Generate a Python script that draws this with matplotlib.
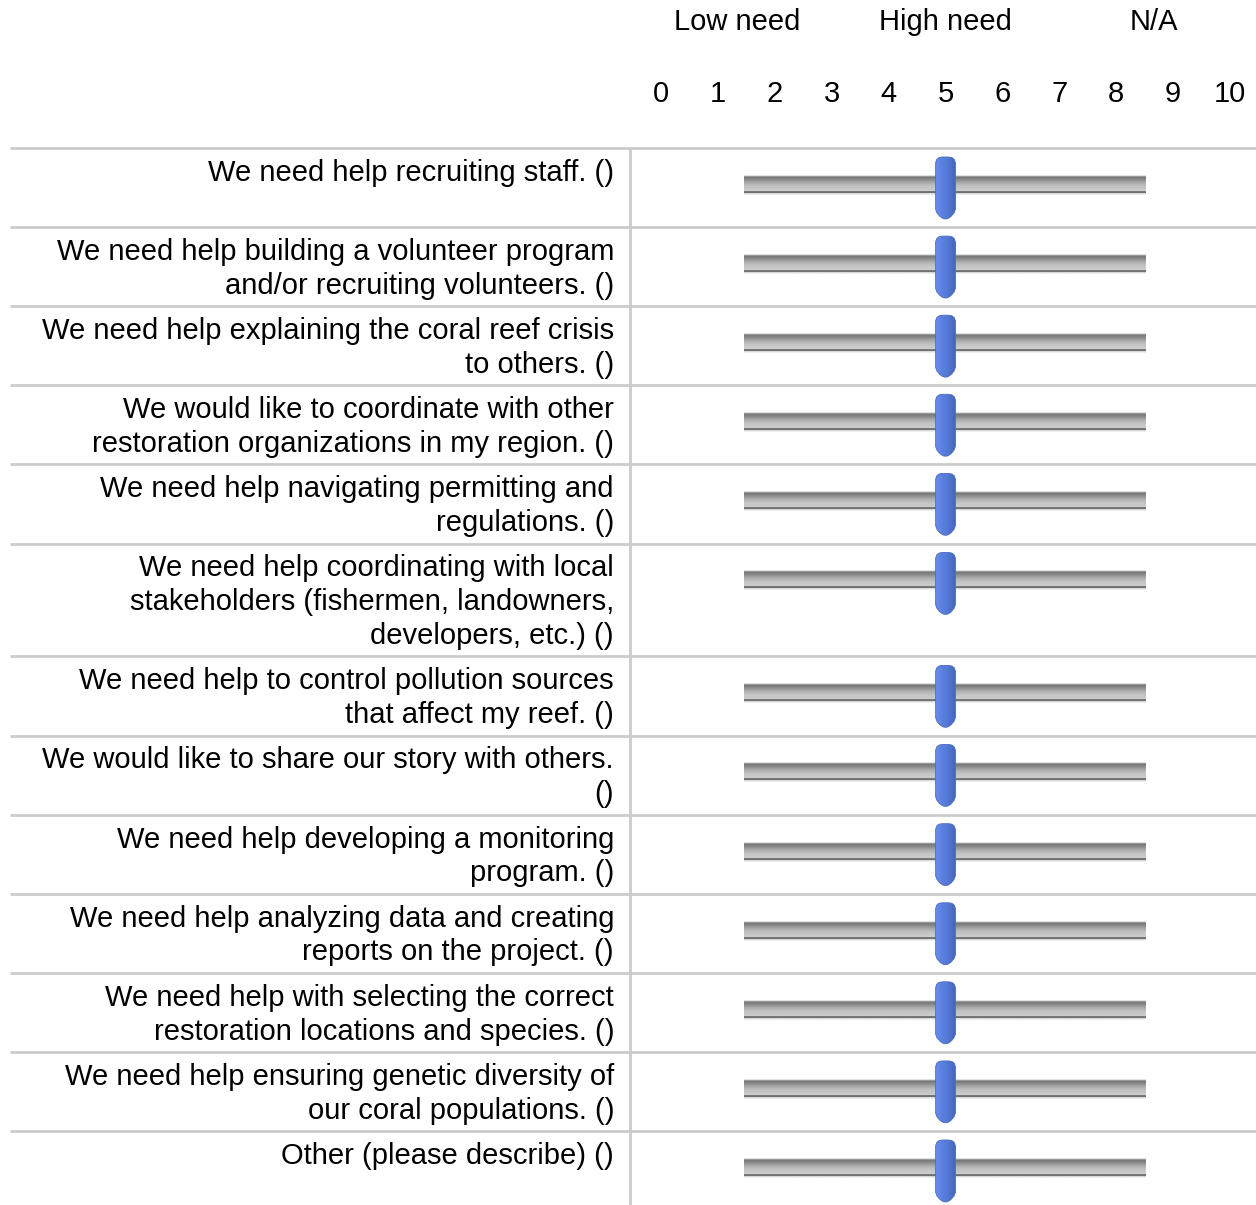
import numpy as np
import matplotlib
matplotlib.use("Agg")
import matplotlib.pyplot as plt
from matplotlib.patches import PathPatch
from matplotlib.path import Path

plt.rcParams["font.family"] = ["Liberation Sans", "DejaVu Sans"]

# survey statements (one entry per slider row)
statements = [
    "We need help recruiting staff. ()",
    "We need help building a volunteer program\nand/or recruiting volunteers. ()",
    "We need help explaining the coral reef crisis\nto others. ()",
    "We would like to coordinate with other\nrestoration organizations in my region. ()",
    "We need help navigating permitting and\nregulations. ()",
    "We need help coordinating with local\nstakeholders (fishermen, landowners,\ndevelopers, etc.) ()",
    "We need help to control pollution sources\nthat affect my reef. ()",
    "We would like to share our story with others.\n()",
    "We need help developing a monitoring\nprogram. ()",
    "We need help analyzing data and creating\nreports on the project. ()",
    "We need help with selecting the correct\nrestoration locations and species. ()",
    "We need help ensuring genetic diversity of\nour coral populations. ()",
    "Other (please describe) ()",
]
slider_values = [5, 5, 5, 5, 5, 5, 5, 5, 5, 5, 5, 5, 5]
scale_ticks = list(range(0, 11))
scale_headers = ["Low need", "High need", "N/A"]
track_range = (1.45, 8.5)

W, H = 1256, 1205
fig = plt.figure(figsize=(W / 100, H / 100), dpi=100)
ax = fig.add_axes([0, 0, 1, 1])
ax.set_xlim(0, W)
ax.set_ylim(H, 0)
ax.axis("off")

# slider axes: x in scale units, y in pixels (shared layout)
x0_px, x10_px = 661, 1230
sax = fig.add_axes([x0_px / W, 0, (x10_px - x0_px) / W, 1])
sax.axis("off")
px_per_unit = (x10_px - x0_px) / 10.0

grid_color = "#cccccc"
font_size = 21
line_step = 33.8

# headers spread over thirds of the scale
span_lo, span_hi = scale_ticks[0] - 0.5, scale_ticks[-1] + 0.5
third = (span_hi - span_lo) / len(scale_headers)
for i, h in enumerate(scale_headers):
    sax.text(span_lo + third * (i + 0.5), 22, h, ha="center", va="center",
             fontsize=font_size, color="black")
for t in scale_ticks:
    sax.text(t, 94, str(t), ha="center", va="center", fontsize=font_size,
             color="black")

# track gradient (top to bottom)
track_shades = np.array([0.88, 0.60, 0.48, 0.50, 0.54, 0.58, 0.62, 0.66, 0.69,
                         0.72, 0.74, 0.76, 0.77, 0.78, 0.79, 0.80, 0.48, 0.44,
                         0.85, 0.93])
track_img = np.repeat(track_shades[:, None], 4, axis=1)

# handle outline, in pixel offsets from centre / top
hw = 10.0
hx = [-hw, -hw, -hw + 1.2, -hw + 3.5, -hw + 7, hw - 7, hw - 3.5, hw - 1.2, hw,
      hw, hw - 1.5, hw - 4.5, hw - 7.5, 0, -hw + 7.5, -hw + 4.5, -hw + 1.5, -hw]
hy = [52, 6, 2.5, 0.6, 0, 0, 0.6, 2.5, 6,
      52, 56, 59.5, 61.5, 62, 61.5, 59.5, 56, 52]
blue_grad = np.array([[0.40, 0.54, 0.91], [0.36, 0.50, 0.88],
                      [0.34, 0.48, 0.85], [0.31, 0.45, 0.80],
                      [0.28, 0.41, 0.74]])[None, :, :]

row_top = 148
ax.plot([10, W], [row_top, row_top], color=grid_color, lw=2, solid_capstyle="butt")
for text, val in zip(statements, slider_values):
    n_lines = text.count("\n") + 1
    row_h = 11.5 + line_step * max(n_lines, 2)
    # statement text, right aligned against the divider
    for k, line in enumerate(text.split("\n")):
        ax.text(614, row_top + 25 + k * line_step, line, ha="right", va="center",
                fontsize=font_size, color="black")
    # track
    ty = row_top + 37
    sax.imshow(track_img, extent=[track_range[0], track_range[1], ty + 10, ty - 10],
               aspect="auto", cmap="gray", vmin=0, vmax=1, interpolation="bilinear",
               zorder=2)
    # handle
    top = row_top + 9
    verts = [(val + dx / px_per_unit, top + dy) for dx, dy in zip(hx, hy)]
    verts.append(verts[0])
    codes = [Path.MOVETO] + [Path.LINETO] * (len(verts) - 2) + [Path.CLOSEPOLY]
    patch = PathPatch(Path(verts, codes), facecolor="none", edgecolor="#4a6cc0",
                      lw=0.6, zorder=4)
    sax.add_patch(patch)
    im = sax.imshow(blue_grad, extent=[val - hw / px_per_unit, val + hw / px_per_unit,
                                       top + 62, top], aspect="auto",
                    interpolation="bilinear", zorder=3)
    im.set_clip_path(patch)
    row_top = row_top + row_h
    if text != statements[-1]:
        ax.plot([10, W], [row_top, row_top], color=grid_color, lw=2,
                solid_capstyle="butt")

ax.plot([630, 630], [148, H], color=grid_color, lw=2, solid_capstyle="butt")

sax.set_xlim(0, 10)
sax.set_ylim(H, 0)

fig.savefig("out.png", dpi=100)
